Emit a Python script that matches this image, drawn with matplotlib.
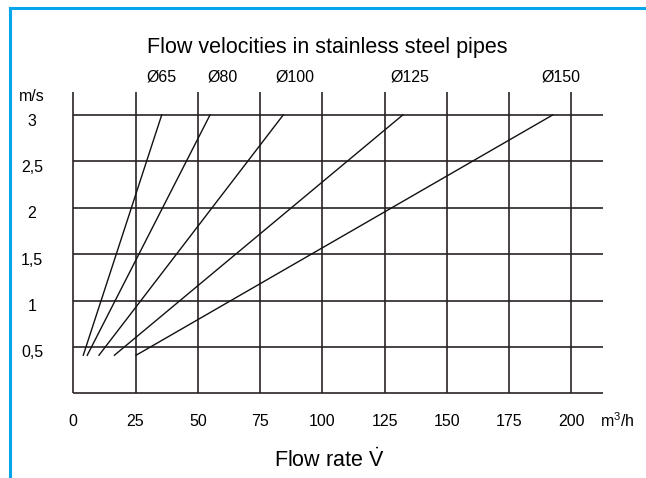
import matplotlib.pyplot as plt
from matplotlib.lines import Line2D

plt.rcParams['font.family'] = ['Liberation Sans', 'DejaVu Sans']
plt.rcParams['mathtext.fontset'] = 'custom'
plt.rcParams['mathtext.rm'] = 'Liberation Sans'

# pipe lines: flow rate (m3/h) at start and end, velocity (m/s) at start and end
pipes = ['Ø65', 'Ø80', 'Ø100', 'Ø125', 'Ø150']
q_start = [4.0, 5.6, 10.3, 16.5, 25.2]
q_end = [35.5, 54.9, 84.3, 132.3, 192.5]
v_start = [0.41, 0.41, 0.41, 0.41, 0.41]
v_end = [3.0, 3.0, 3.0, 3.0, 3.0]
label_x = [35.6, 59.9, 89.0, 135.2, 195.8]

x_ticks = [0, 25, 50, 75, 100, 125, 150, 175, 200]
y_ticks = [0, 0.5, 1, 1.5, 2, 2.5, 3]
y_labels = ['', '0,5', '1', '1,5', '2', '2,5', '3']

W, H = 646, 478
fig = plt.figure(figsize=(W / 100, H / 100), dpi=100)

x_max = 212.9
y_max = 3.25
px_x = 2.49   # pixels per m3/h
px_y = 92.77  # pixels per m/s
ax = fig.add_axes([73.3 / W, (H - 393.3) / H, x_max * px_x / W, y_max * px_y / H])
ax.set_xlim(0, x_max)
ax.set_ylim(0, y_max)
ax.axis('off')

grid_col = '#2a2222'
ax.hlines(y_ticks, 0, x_max, color=grid_col, lw=1.2, clip_on=False)
ax.vlines(x_ticks, 0, y_max, color=grid_col, lw=1.2, clip_on=False)

fs = 11.5
for i in range(len(pipes)):
    ax.plot([q_start[i], q_end[i]], [v_start[i], v_end[i]], color='#111111', lw=1.0)
    ax.text(label_x[i], 3.41, pipes[i], ha='center', va='center', fontsize=fs)

for x in x_ticks:
    ax.text(x, -0.30, str(x), ha='center', va='center', fontsize=fs, clip_on=False)
ax.text(211.5, -0.30, r'm$\mathrm{^3}$/h', ha='left', va='center', fontsize=fs)

for y, lab in zip(y_ticks, y_labels):
    ax.text(-16.6, y - 0.065, lab, ha='center', va='center', fontsize=fs)
ax.text(-16.6, 3.195, 'm/s', ha='center', va='center', fontsize=fs)

ax.text(102, 3.73, 'Flow velocities in stainless steel pipes', ha='center', va='center', fontsize=15.5)
ax.text(103, -0.72, r'Flow rate $\mathrm{\dot{V}}$', ha='center', va='center', fontsize=15.5)

# blue frame (top and left edges)
blue = '#05a6ea'
fig.add_artist(Line2D([10 / W, 1], [1 - 7.5 / H, 1 - 7.5 / H], color=blue, lw=2.2, transform=fig.transFigure))
fig.add_artist(Line2D([10 / W, 10 / W], [0, 1 - 7.5 / H], color=blue, lw=2.2, transform=fig.transFigure))

fig.savefig('out.png', dpi=100)
